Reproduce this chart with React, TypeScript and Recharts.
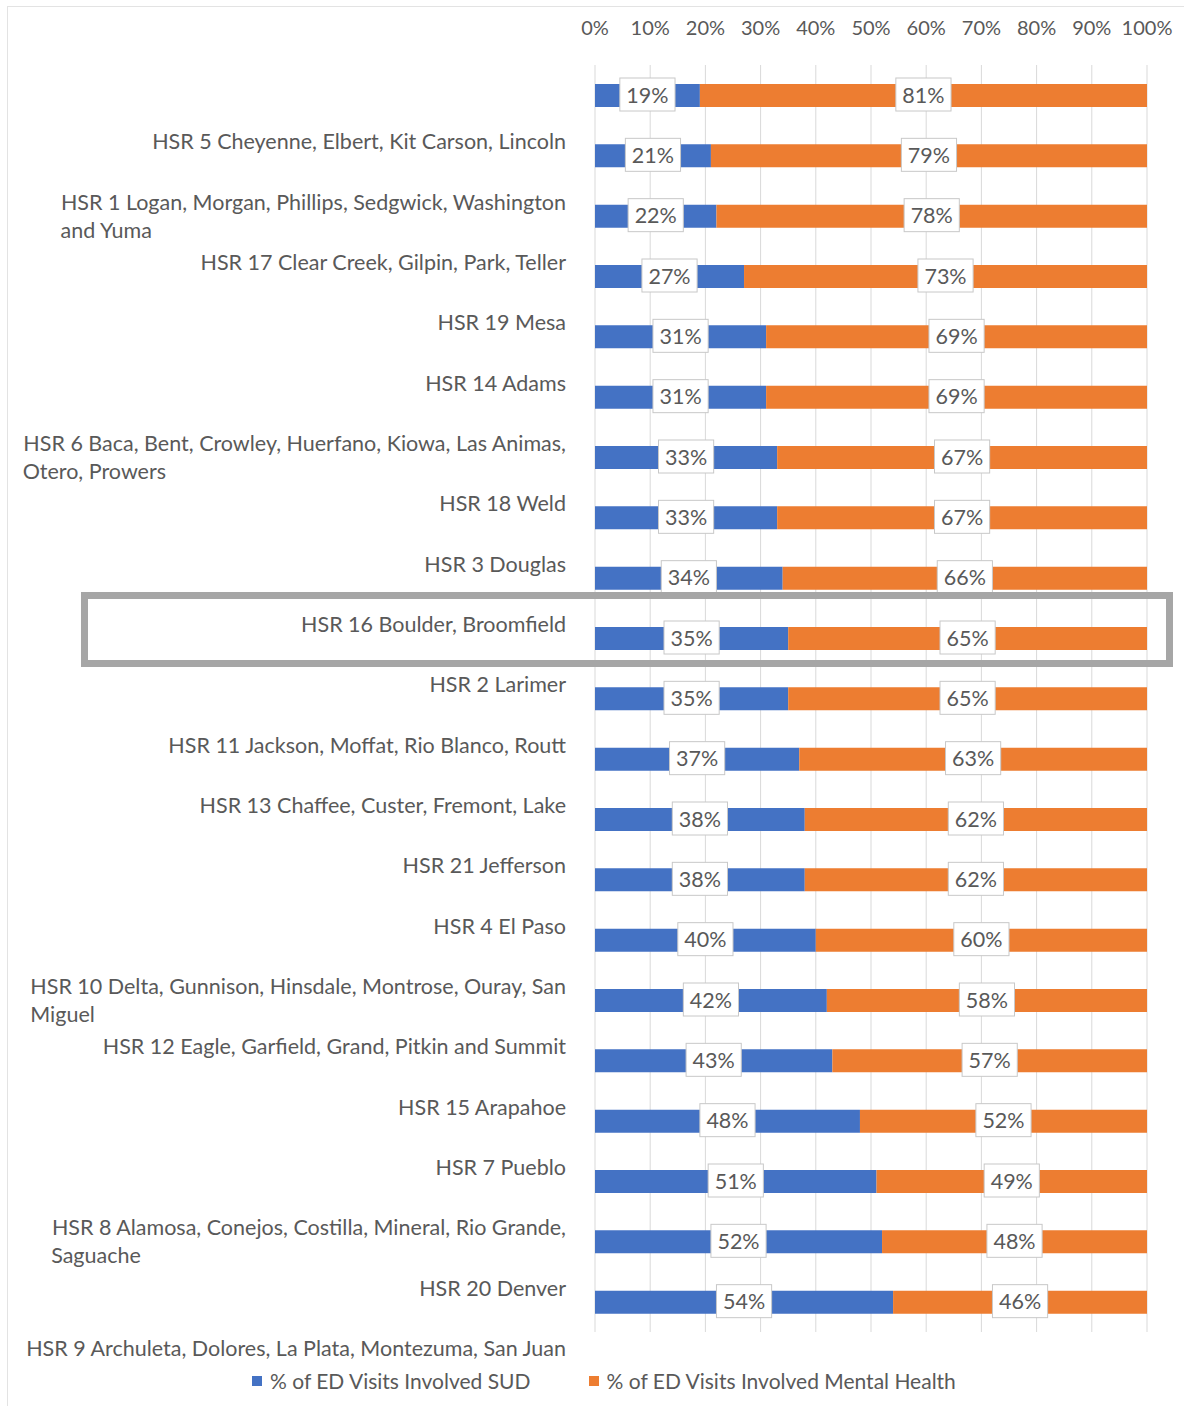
import React from "react";
import { Bar, BarChart, CartesianGrid, LabelList, Legend, XAxis, YAxis } from "recharts";

const REGIONS = [
  "HSR 5 Cheyenne, Elbert, Kit Carson, Lincoln",
  "HSR 1 Logan, Morgan, Phillips, Sedgwick, Washington\nand Yuma",
  "HSR 17 Clear Creek, Gilpin, Park, Teller",
  "HSR 19 Mesa",
  "HSR 14 Adams",
  "HSR 6 Baca, Bent, Crowley, Huerfano, Kiowa, Las Animas,\nOtero, Prowers",
  "HSR 18 Weld",
  "HSR 3 Douglas",
  "HSR 16 Boulder, Broomfield",
  "HSR 2 Larimer",
  "HSR 11 Jackson, Moffat, Rio Blanco, Routt",
  "HSR 13 Chaffee, Custer, Fremont, Lake",
  "HSR 21 Jefferson",
  "HSR 4 El Paso",
  "HSR 10 Delta, Gunnison, Hinsdale, Montrose, Ouray, San\nMiguel",
  "HSR 12 Eagle, Garfield, Grand, Pitkin and Summit",
  "HSR 15 Arapahoe",
  "HSR 7 Pueblo",
  "HSR 8 Alamosa, Conejos, Costilla, Mineral, Rio Grande,\nSaguache",
  "HSR 20 Denver",
  "HSR 9 Archuleta, Dolores, La Plata, Montezuma, San Juan",
];

// share of ED visits, percent
const SUD_SHARE = [19, 21, 22, 27, 31, 31, 33, 33, 34, 35, 35, 37, 38, 38, 40, 42, 43, 48, 51, 52, 54];
const MH_SHARE = [81, 79, 78, 73, 69, 69, 67, 67, 66, 65, 65, 63, 62, 62, 60, 58, 57, 52, 49, 48, 46];

const PCT_TICKS = [0, 10, 20, 30, 40, 50, 60, 70, 80, 90, 100];

const SUD_LABEL = "% of ED Visits Involved SUD";
const MH_LABEL = "% of ED Visits Involved Mental Health";

const data = REGIONS.map((name, i) => ({ name, sud: SUD_SHARE[i], mh: MH_SHARE[i] }));

const FONT = "Lato, 'Open Sans', sans-serif";
const FONT_SIZE = 21.5;
const TEXT = "#595959";
const BLUE = "#4472C4";
const ORANGE = "#ED7D31";

let measureCtx: CanvasRenderingContext2D | null = null;
function textWidth(s: string) {
  if (!measureCtx) measureCtx = document.createElement("canvas").getContext("2d");
  if (!measureCtx) return s.length * 10;
  measureCtx.font = `${FONT_SIZE}px ${FONT}`;
  return measureCtx.measureText(s).width;
}

// wrapped names: block is right aligned, continuation lines start under the first line
function RegionTick(props: any) {
  const { x, y, payload } = props;
  const lines = String(payload.value).split("\n");
  const left = x - textWidth(lines[0]);
  const baseY = y + 46;
  return (
    <g fontFamily={FONT} fontSize={FONT_SIZE} fill={TEXT}>
      <text x={x} y={baseY} textAnchor="end" dominantBaseline="central">
        {lines[0]}
      </text>
      {lines.slice(1).map((line, k) => (
        <text key={k} x={left} y={baseY + 28 * (k + 1)} textAnchor="start" dominantBaseline="central">
          {line}
        </text>
      ))}
    </g>
  );
}

function ValueBox(props: any) {
  const { x, y, width, height, value } = props;
  const cx = x + width / 2;
  const cy = y + height / 2 - 1;
  const label = `${value}%`;
  const w = textWidth(label) + 13;
  const h = 33;
  return (
    <g>
      <rect x={cx - w / 2} y={cy - h / 2} width={w} height={h} fill="#FFFFFF" stroke="#C8C8C8" strokeWidth={1} />
      <text
        x={cx}
        y={cy}
        textAnchor="middle"
        dominantBaseline="central"
        fontFamily={FONT}
        fontSize={FONT_SIZE}
        fill={TEXT}
      >
        {label}
      </text>
    </g>
  );
}

function LegendRow() {
  const item = (color: string, label: string) => (
    <span style={{ display: "inline-flex", alignItems: "center", marginRight: 58 }}>
      <span style={{ width: 10, height: 10, background: color, marginRight: 8 }} />
      <span>{label}</span>
    </span>
  );
  return (
    <div
      style={{
        height: 64,
        paddingLeft: 252,
        paddingTop: 34,
        boxSizing: "border-box",
        fontFamily: FONT,
        fontSize: 21,
        color: TEXT,
        lineHeight: "24px",
        display: "flex",
      }}
    >
      {item(BLUE, SUD_LABEL)}
      {item(ORANGE, MH_LABEL)}
    </div>
  );
}

export default function App() {
  return (
    <div style={{ position: "relative", width: 1184, height: 1406, background: "#FFFFFF" }}>
      <style>{"body{margin:0}"}</style>
      <div
        style={{
          position: "absolute",
          left: 7,
          top: 6,
          right: 0,
          bottom: 0,
          borderLeft: "1px solid #E3E3E3",
          borderTop: "1px solid #E3E3E3",
        }}
      />
      <BarChart
        width={1184}
        height={1406}
        data={data}
        layout="vertical"
        margin={{ top: 0, right: 37, bottom: 10, left: 0 }}
      >
        <CartesianGrid stroke="#D9D9D9" horizontal={false} />
        <XAxis
          type="number"
          orientation="top"
          domain={[0, 100]}
          ticks={PCT_TICKS}
          tickFormatter={(v) => `${v}%`}
          height={65}
          axisLine={false}
          tickLine={false}
          tickMargin={24}
          interval={0}
          tick={{ fill: TEXT, fontSize: 20, fontFamily: FONT }}
        />
        <YAxis
          type="category"
          dataKey="name"
          width={595}
          axisLine={false}
          tickLine={false}
          tickSize={0}
          tickMargin={29}
          interval={0}
          tick={<RegionTick />}
        />
        <Legend verticalAlign="bottom" height={64} content={<LegendRow />} />
        <Bar dataKey="sud" name={SUD_LABEL} stackId="share" fill={BLUE} barSize={23} isAnimationActive={false}>
          <LabelList dataKey="sud" content={<ValueBox />} />
        </Bar>
        <Bar dataKey="mh" name={MH_LABEL} stackId="share" fill={ORANGE} barSize={23} isAnimationActive={false}>
          <LabelList dataKey="mh" content={<ValueBox />} />
        </Bar>
      </BarChart>
      <div
        style={{
          position: "absolute",
          left: 81,
          top: 592,
          width: 1092,
          height: 75,
          border: "7px solid #A6A6A6",
          boxSizing: "border-box",
          pointerEvents: "none",
        }}
      />
    </div>
  );
}
